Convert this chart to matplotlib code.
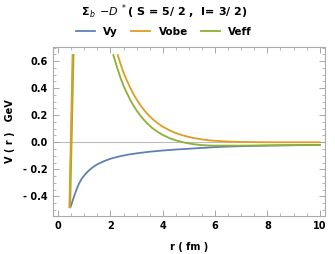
import numpy as np
import matplotlib.pyplot as plt
from matplotlib.ticker import MultipleLocator, FuncFormatter

# values
r_vy = [0.47, 0.5, 0.55, 0.6, 0.65, 0.7, 0.75, 0.8, 0.9, 1.0, 1.125, 1.25, 1.375,
        1.5, 1.75, 2.0, 2.25, 2.5, 2.75, 3.0, 3.5, 4.0, 4.5, 5.0, 5.5, 6.0, 6.5,
        7.0, 7.5, 8.0, 9.0, 10.0]
vy = [-0.48, -0.465, -0.435, -0.405, -0.377, -0.35, -0.326, -0.305, -0.27, -0.245,
      -0.218, -0.196, -0.178, -0.163, -0.140, -0.122, -0.109, -0.098, -0.089, -0.082,
      -0.070, -0.061, -0.054, -0.048, -0.042, -0.036, -0.032, -0.029, -0.027, -0.025,
      -0.022, -0.020]

# near-vertical piece at small r
r_obe_a = [0.43, 0.55]
vobe_a = [-0.48, 0.645]
r_eff_a = [0.45, 0.58]
veff_a = [-0.48, 0.645]

r_obe = [2.28, 2.375, 2.5, 2.625, 2.75, 2.875, 3.0, 3.125, 3.25, 3.375, 3.5, 3.625,
         3.75, 3.875, 4.0, 4.25, 4.5, 4.75, 5.0, 5.25, 5.5, 5.75, 6.0, 6.5, 7.0, 7.5,
         8.0, 9.0, 10.0]
vobe = [0.645, 0.585, 0.515, 0.458, 0.405, 0.358, 0.317, 0.280, 0.247, 0.218, 0.192,
        0.169, 0.149, 0.131, 0.115, 0.089, 0.068, 0.052, 0.039, 0.029, 0.021, 0.015,
        0.011, 0.005, 0.002, 0.001, 0.0, 0.0, 0.0]

r_eff = [2.11, 2.25, 2.375, 2.5, 2.625, 2.75, 2.875, 3.0, 3.125, 3.25, 3.375, 3.5,
         3.625, 3.75, 3.875, 4.0, 4.25, 4.5, 4.75, 5.0, 5.25, 5.5, 5.75, 6.0, 6.5,
         7.0, 8.0, 9.0, 10.0]
veff = [0.645, 0.556, 0.482, 0.417, 0.365, 0.316, 0.273, 0.235, 0.202, 0.172, 0.145,
        0.122, 0.101, 0.084, 0.068, 0.054, 0.031, 0.014, 0.001, -0.009, -0.016, -0.021,
        -0.024, -0.025, -0.025, -0.025, -0.023, -0.021, -0.020]

c_vy = '#5e81b5'
c_obe = '#e19c24'
c_eff = '#8fb032'

plt.rcParams['font.family'] = ['DejaVu Sans']
fig = plt.figure(figsize=(3.35, 2.54), dpi=100)
ax = fig.add_axes([0.158, 0.150, 0.812, 0.665])

ax.axhline(0, color='#bbbbbb', lw=0.8, zorder=1)
ax.plot(r_vy, vy, color=c_vy, lw=1.3, label='Vy')
ax.plot(r_eff_a, veff_a, color=c_eff, lw=1.6)
ax.plot(r_obe_a, vobe_a, color=c_obe, lw=1.3)
ax.plot(r_obe, vobe, color=c_obe, lw=1.3, label='Vobe')
ax.plot(r_eff, veff, color=c_eff, lw=1.3, label='Veff')

ax.set_xlim(-0.2, 10.2)
ax.set_ylim(-0.545, 0.705)
ax.xaxis.set_major_locator(MultipleLocator(2))
ax.xaxis.set_minor_locator(MultipleLocator(0.5))
ax.yaxis.set_major_locator(MultipleLocator(0.2))
ax.yaxis.set_minor_locator(MultipleLocator(0.05))
ax.yaxis.set_major_formatter(FuncFormatter(
    lambda v, p: '0.0' if abs(v) < 1e-9 else ('- %.1f' % -v if v < 0 else '%.1f' % v)))
ax.tick_params(which='both', direction='in', top=True, right=True,
               colors='#999999', labelcolor='black', labelsize=7)
ax.tick_params(which='major', length=4, width=0.6)
ax.tick_params(which='minor', length=2, width=0.5)
for lab in ax.get_xticklabels() + ax.get_yticklabels():
    lab.set_fontweight('bold')
for s in ax.spines.values():
    s.set_color('#aaaaaa')
    s.set_linewidth(0.8)

ax.set_xlabel('r ( fm )', fontsize=7, fontweight='bold', labelpad=8)
ax.set_ylabel('V ( r )   GeV', fontsize=7, fontweight='bold', labelpad=6)

fig.text(0.49, 0.955, r'$\mathbf{\Sigma}_{\,b}$ $-D^{\ *}$( S = 5/ 2 ,  I= 3/ 2)',
         ha='center', va='center', fontsize=8, fontweight='bold')
fig.legend(loc='center', bbox_to_anchor=(0.49, 0.875), ncol=3, frameon=False,
           prop={'size': 7.5, 'weight': 'bold'}, handlelength=1.8,
           columnspacing=1.3, handletextpad=0.8)

fig.savefig('out.png', dpi=100)
